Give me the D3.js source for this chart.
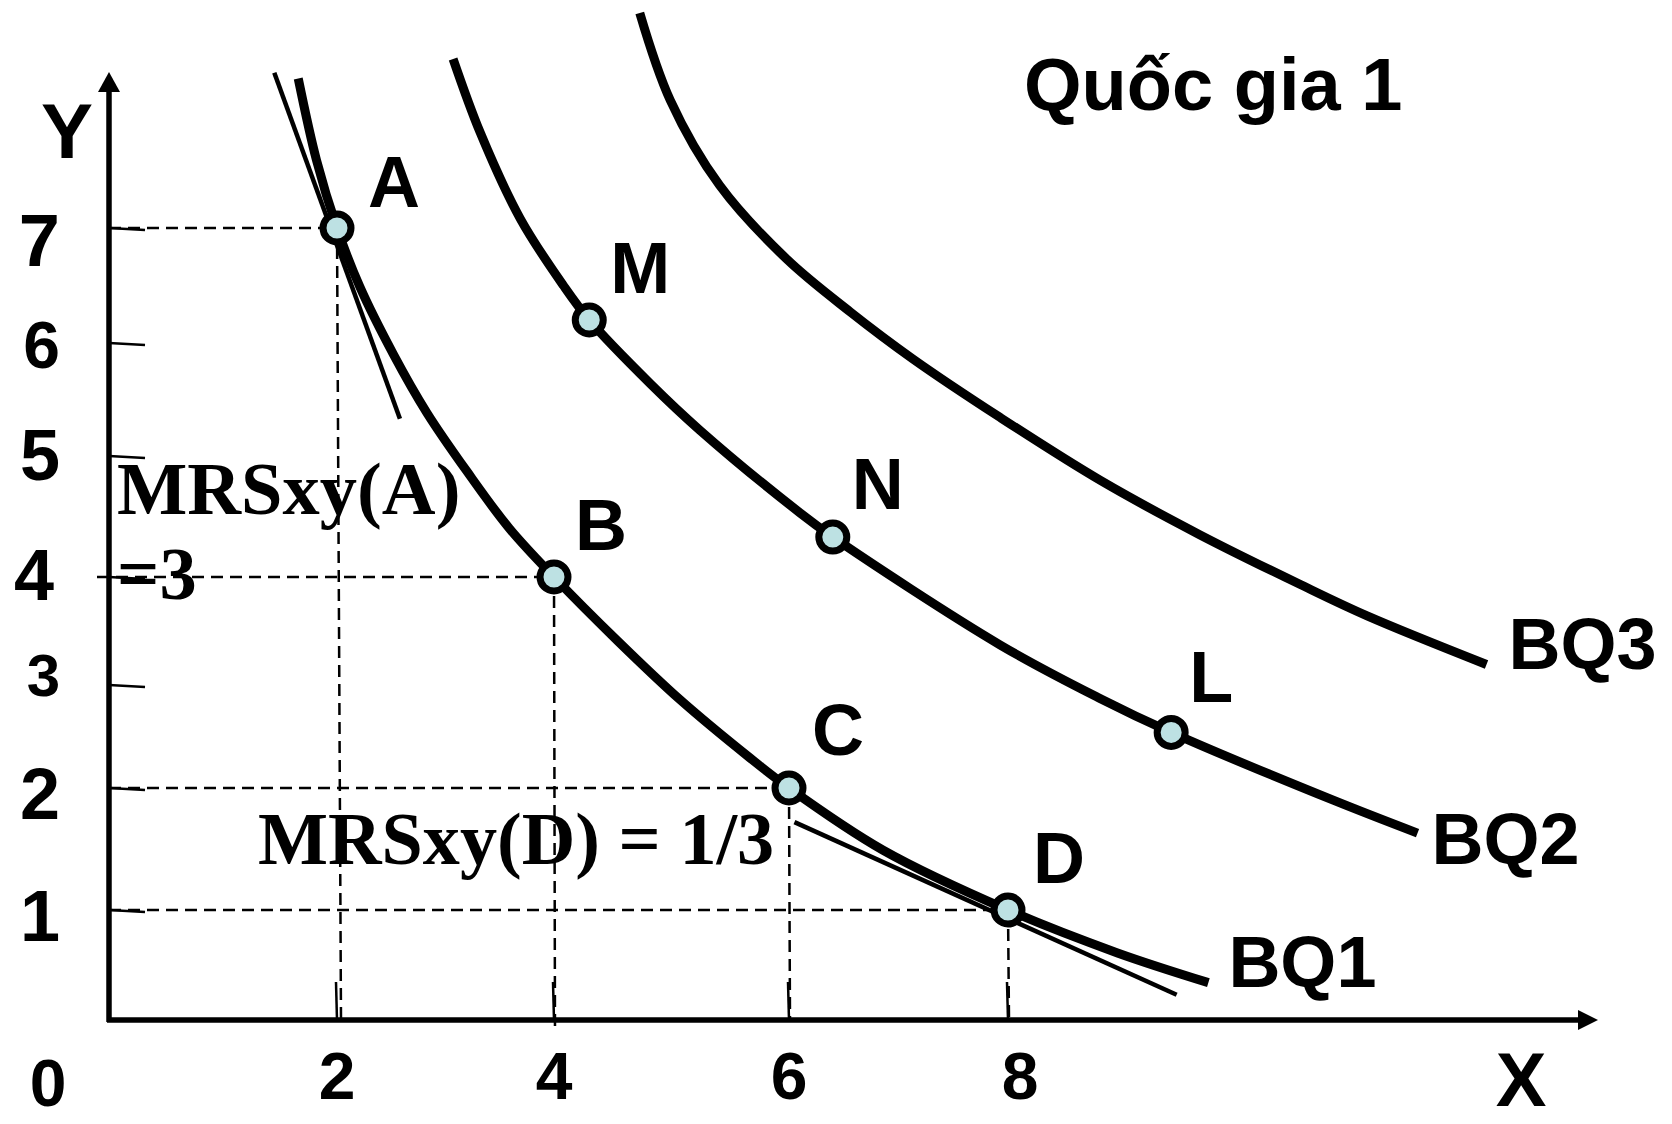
<!DOCTYPE html>
<html><head><meta charset="utf-8">
<script src="https://cdn.jsdelivr.net/npm/d3@7"></script>
<style>body{margin:0;background:#fff}svg{display:block}</style>
</head><body>
<svg id="chart" width="1672" height="1124"></svg>
<script>
// ---- data (in X/Y units) ----
const xTicks = [2, 4, 6, 8];
const yTicks = [1, 2, 3, 4, 5, 6, 7];
const xTickLabels = ["2", "4", "6", "8"];
const yTickLabels = ["1", "2", "3", "4", "5", "6", "7"];

const bq1 = [[1.66,8.30],[1.82,7.59],[2,7],[2.21,6.49],[2.52,5.90],[2.83,5.38],[3.20,4.87],[3.59,4.40],[4,4],
             [4.54,3.41],[5.07,2.86],[5.67,2.29],[6,2],[6.86,1.49],[8,1],[9.0,0.61],[9.83,0.34]];
const bq2 = [[3.07,8.47],[3.32,7.83],[3.69,7.08],[4.08,6.50],[4.30,6.20],[4.82,5.64],[5.24,5.23],[6.10,4.53],
             [6.40,4.33],[7.93,3.37],[8.84,2.87],[9.49,2.54],[10.97,1.90],[11.74,1.63]];
const bq3 = [[4.73,8.87],[4.99,8.11],[5.41,7.37],[5.98,6.73],[6.56,6.27],[7.13,5.86],[7.93,5.34],[8.84,4.80],
             [9.75,4.35],[10.67,3.93],[11.28,3.64],[12.37,3.19]];
const curveNames = ["BQ1", "BQ2", "BQ3"];

const pointNames = ["A", "B", "C", "D", "M", "N", "L"];
const pointX = [2, 4, 6, 8, 4.30, 6.40, 9.49];
const pointY = [7, 4, 2, 1, 6.20, 4.33, 2.54];
const guidePoints = ["A", "B", "C", "D"];

const tangentA = [[1.45, 8.35], [2.58, 5.33]];
const tangentD = [[6.05, 1.72], [9.54, 0.23]];

const titleText = "Quốc gia 1";
const mrsA = ["MRSxy(A)", "=3"];
const mrsD = "MRSxy(D) = 1/3";

// ---- scales (hand-drawn axis: irregular tick spacing) ----
const x = d3.scaleLinear().domain([0, 2, 4, 6, 8]).range([109, 337, 554, 789, 1008]);
const y = d3.scaleLinear().domain([0, 1, 2, 3, 4, 5, 6, 7]).range([1020, 910, 788, 685, 577, 456, 343, 228]);

const svg = d3.select("#chart");
const SANS = "'Liberation Sans', Arial, sans-serif";
const SERIF = "'Liberation Serif', 'Times New Roman', serif";
const x0 = x(0), y0 = y(0);

// dashed guides
const g = svg.append("g").attr("stroke", "#000").attr("stroke-width", 2.5).attr("stroke-dasharray", "12,7").attr("fill", "none");
guidePoints.forEach(n => {
  const i = pointNames.indexOf(n);
  const px = x(pointX[i]), py = y(pointY[i]);
  g.append("line").attr("x1", n === "B" ? x0 - 12 : x0).attr("y1", py).attr("x2", px).attr("y2", py);
  g.append("line").attr("x1", px).attr("y1", py).attr("x2", px + (n === "A" ? 4 : 1)).attr("y2", n === "B" ? y0 + 12 : y0);
});

// solid short ticks
const t = svg.append("g").attr("stroke", "#000").attr("stroke-width", 2.5);
yTicks.forEach(v => t.append("line").attr("x1", x0).attr("y1", y(v)).attr("x2", x0 + 36).attr("y2", y(v) + 2));
xTicks.forEach(v => t.append("line").attr("x1", x(v)).attr("y1", y0).attr("x2", x(v) - 1).attr("y2", y0 - 38));

// axes
svg.append("line").attr("x1", x0).attr("y1", y0 + 2).attr("x2", x0).attr("y2", 88).attr("stroke", "#000").attr("stroke-width", 5.5);
svg.append("line").attr("x1", x0 - 2).attr("y1", y0).attr("x2", 1582).attr("y2", y0).attr("stroke", "#000").attr("stroke-width", 5.5);
svg.append("path").attr("d", `M${x0},72 L${x0 - 11},92 L${x0 + 11},92 Z`).attr("fill", "#000");
svg.append("path").attr("d", `M1598,${y0} L1578,${y0 - 10} L1578,${y0 + 10} Z`).attr("fill", "#000");

// tangent lines
const lineGen = d3.line().x(d => x(d[0])).y(d => y(d[1]));
[tangentA, tangentD].forEach(tl => svg.append("path").attr("d", lineGen(tl)).attr("stroke", "#000").attr("stroke-width", 4.5).attr("fill", "none"));

// indifference curves
const curveGen = d3.line().x(d => x(d[0])).y(d => y(d[1])).curve(d3.curveCatmullRom.alpha(0.5));
const curves = [bq1, bq2, bq3];
curves.forEach(c => svg.append("path").attr("d", curveGen(c)).attr("stroke", "#000").attr("stroke-width", 9).attr("fill", "none"));

// curve labels
const curveLabelOffset = [[20, 4], [14, 31], [22, 5]];
curves.forEach((c, i) => {
  const last = c[c.length - 1];
  svg.append("text").attr("x", x(last[0]) + curveLabelOffset[i][0]).attr("y", y(last[1]) + curveLabelOffset[i][1])
    .attr("font-family", SANS).attr("font-weight", "bold").attr("font-size", 72).text(curveNames[i]);
});

// points
const labelOffset = {A: [31, -21], B: [21, -27], C: [23, -33], D: [25, -27], M: [21, -27], N: [19, -28], L: [18, -30]};
pointNames.forEach((n, i) => {
  svg.append("circle").attr("cx", x(pointX[i])).attr("cy", y(pointY[i])).attr("r", 14)
    .attr("fill", "#bde1e3").attr("stroke", "#000").attr("stroke-width", 7);
  svg.append("text").attr("x", x(pointX[i]) + labelOffset[n][0]).attr("y", y(pointY[i]) + labelOffset[n][1])
    .attr("font-family", SANS).attr("font-weight", "bold").attr("font-size", 72).text(n);
});

// tick labels (hand-placed look of the original)
const yLabelStyle = {1: [72, 31, 60], 2: [72, 31, 60], 3: [60, 11, 60], 4: [72, 23, 54], 5: [72, 24, 60], 6: [66, 25, 60], 7: [74, 38, 60]};
yTicks.forEach((v, i) => {
  const [fs, dy, ax] = yLabelStyle[v];
  svg.append("text").attr("x", ax).attr("y", y(v) + dy).attr("text-anchor", "end")
    .attr("font-family", SANS).attr("font-weight", "bold").attr("font-size", fs).text(yTickLabels[i]);
});
xTicks.forEach((v, i) => {
  svg.append("text").attr("x", x(v) + (v === 8 ? 12 : 0)).attr("y", 1099).attr("text-anchor", "middle")
    .attr("font-family", SANS).attr("font-weight", "bold").attr("font-size", 66).text(xTickLabels[i]);
});
svg.append("text").attr("x", 48).attr("y", 1106).attr("text-anchor", "middle")
  .attr("font-family", SANS).attr("font-weight", "bold").attr("font-size", 66).text("0");

// axis names
svg.append("text").attr("x", 67).attr("y", 158).attr("text-anchor", "middle")
  .attr("font-family", SANS).attr("font-weight", "bold").attr("font-size", 78).text("Y");
svg.append("text").attr("x", 1521).attr("y", 1106).attr("text-anchor", "middle")
  .attr("font-family", SANS).attr("font-weight", "bold").attr("font-size", 76).text("X");

// title
svg.append("text").attr("x", 1024).attr("y", 110)
  .attr("font-family", SANS).attr("font-weight", "bold").attr("font-size", 74).text(titleText);

// MRS annotations
svg.append("text").attr("x", 117).attr("y", 514).attr("font-family", SERIF).attr("font-weight", "bold").attr("font-size", 74.5).text(mrsA[0]);
svg.append("text").attr("x", 117).attr("y", 599).attr("font-family", SERIF).attr("font-weight", "bold").attr("font-size", 74.5).text(mrsA[1]);
svg.append("text").attr("x", 258).attr("y", 864).attr("font-family", SERIF).attr("font-weight", "bold").attr("font-size", 74.2).text(mrsD);
</script>
</body></html>
